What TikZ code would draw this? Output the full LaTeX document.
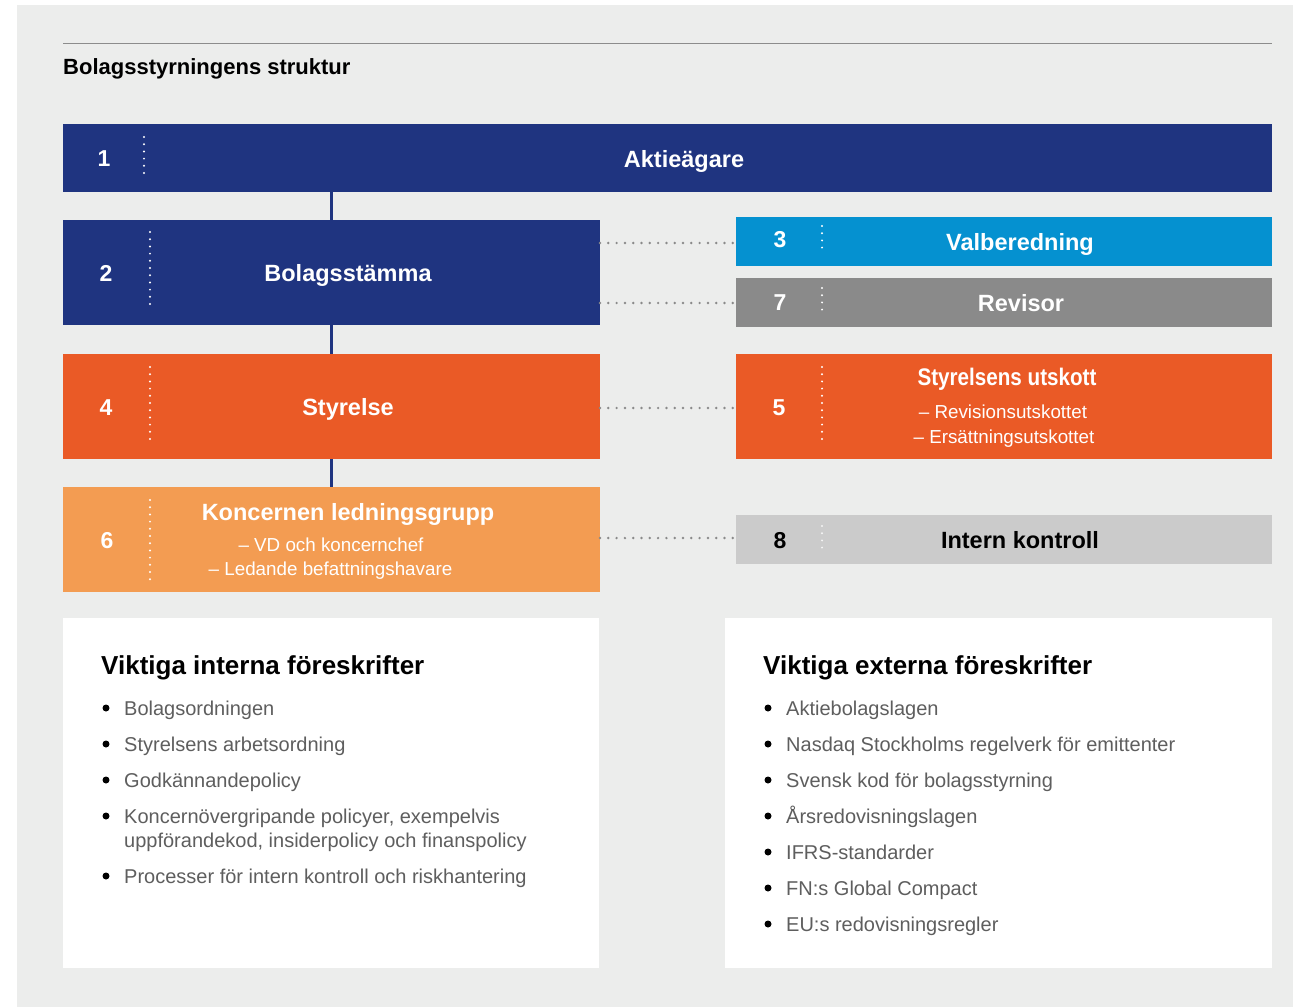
\documentclass[tikz,border=0pt]{standalone}
\usepackage{fontspec}
\setmainfont{Liberation Sans}
\newfontfamily\condfont{Liberation Sans}[FakeStretch=0.86]
\definecolor{bg}{HTML}{ECEDEC}
\definecolor{navy}{HTML}{1F3480}
\definecolor{skyblue}{HTML}{0591D0}
\definecolor{midgray}{HTML}{8A8A8A}
\definecolor{orangeA}{HTML}{EA5A26}
\definecolor{orangeB}{HTML}{F39C52}
\definecolor{lightgray}{HTML}{CBCBCB}
\definecolor{rulegray}{HTML}{8C8C8C}
\definecolor{bodygray}{HTML}{5E5E5E}
\tikzset{
  box/.style={draw=none, inner sep=0pt, outer sep=0pt, rectangle},
  numtxt/.style={anchor=base, inner sep=0pt, font=\fontsize{23}{26}\selectfont\bfseries},
  ttl/.style={anchor=base, inner sep=0pt, font=\fontsize{23.5}{28}\selectfont\bfseries},
  subtxt/.style={anchor=base, inner sep=0pt, font=\fontsize{18.8}{22}\selectfont},
  wdots/.style={draw=white, line width=2.2pt, line cap=round, dash pattern=on 0pt off 7.2pt},
  gdots/.style={draw=midgray, line width=2.7pt, line cap=round, dash pattern=on 0pt off 8.3pt},
  vline/.style={draw=navy, line width=2.2pt},
  head/.style={anchor=base west, inner sep=0pt, font=\fontsize{26}{30}\selectfont\bfseries},
  item/.style={anchor=base west, inner sep=0pt, text=bodygray, font=\fontsize{20}{24}\selectfont, align=left},
  bul/.style={circle, fill=black, inner sep=0pt, minimum size=7pt}
}
\begin{document}
\begin{tikzpicture}[x=1pt, y=-1pt]
\useasboundingbox (0,0) rectangle (1293,1007);
\fill[white] (0,0) rectangle (1293,1007);
\fill[bg] (17,5) rectangle (1293,1007);
% title rule and title
\draw[rulegray, line width=1.6pt] (63,43.5) -- (1272,43.5);
\node[anchor=base west, inner sep=0pt, font=\fontsize{22}{26}\selectfont\bfseries] (title) at (63,74) {Bolagsstyrningens struktur};

% boxes
\node[box, fill=navy, minimum width=1209pt, minimum height=68pt] (b1) at (667.5,158) {};
\node[box, fill=navy, minimum width=537pt, minimum height=105pt] (b2) at (331.5,272.5) {};
\node[box, fill=skyblue, minimum width=536pt, minimum height=49pt] (b3) at (1004,241.5) {};
\node[box, fill=midgray, minimum width=536pt, minimum height=49pt] (b7) at (1004,302.5) {};
\node[box, fill=orangeA, minimum width=537pt, minimum height=105pt] (b4) at (331.5,406.5) {};
\node[box, fill=orangeA, minimum width=536pt, minimum height=105pt] (b5) at (1004,406.5) {};
\node[box, fill=orangeB, minimum width=537pt, minimum height=105pt] (b6) at (331.5,539.5) {};
\node[box, fill=lightgray, minimum width=536pt, minimum height=49pt] (b8) at (1004,539.5) {};

% vertical navy connectors
\draw[vline] (b1.south -| b2.north) -- (b2.north);
\draw[vline] (b2.south) -- (b4.north);
\draw[vline] (b4.south) -- (b6.north);

% dotted horizontal connectors
\draw[gdots] (b2.east |- 0,243) -- (b3.west |- 0,243);
\draw[gdots] (b2.east |- 0,303) -- (b7.west |- 0,303);
\draw[gdots] (b4.east |- 0,408) -- (b5.west |- 0,408);
\draw[gdots] (b6.east |- 0,538) -- (b8.west |- 0,538);

% white dotted separators inside boxes
\draw[wdots] (144,137) -- (144,180);
\draw[wdots] (150,232) -- (150,310);
\draw[wdots] (150,367) -- (150,446);
\draw[wdots] (150,500) -- (150,583);
\draw[wdots] (822,226) -- (822,253);
\draw[wdots] (822,288) -- (822,316);
\draw[wdots] (822,367) -- (822,445);
\draw[wdots, draw=white!80!lightgray] (822,526) -- (822,553);

% numbers
\node[numtxt, text=white] (n1) at (104,166.5) {1};
\node[numtxt, text=white] (n2) at (106,281) {2};
\node[numtxt, text=white] (n3) at (780,247) {3};
\node[numtxt, text=white] (n7) at (780,310) {7};
\node[numtxt, text=white] (n4) at (106,415) {4};
\node[numtxt, text=white] (n5) at (779,415) {5};
\node[numtxt, text=white] (n6) at (107,548) {6};
\node[numtxt, text=black] (n8) at (780,548) {8};

% box titles
\node[ttl, text=white] (t1) at (684,167.5) {Aktieägare};
\node[ttl, text=white] (t2) at (348,281) {Bolagsstämma};
\node[ttl, text=white] (t3) at (1020,250) {Valberedning};
\node[ttl, text=white] (t7) at (1021,311) {Revisor};
\node[ttl, text=white] (t4) at (348,415) {Styrelse};
\node[ttl, text=white, font=\fontsize{24}{28}\selectfont\bfseries\condfont] (t5) at (1007,385) {Styrelsens utskott};
\node[subtxt, text=white] (s5a) at (1003,418.5) {– Revisionsutskottet};
\node[subtxt, text=white] (s5b) at (1004,443.5) {– Ersättningsutskottet};
\node[ttl, text=white] (t6) at (348,520.5) {Koncernen ledningsgrupp};
\node[subtxt, text=white] (s6a) at (331,551) {– VD och koncernchef};
\node[subtxt, text=white] (s6b) at (330.5,575.5) {– Ledande befattningshavare};
\node[ttl, text=black] (t8) at (1020,548) {Intern kontroll};

% lower white panels
\node[box, fill=white, minimum width=536pt, minimum height=350pt] (pl) at (331,793) {};
\node[box, fill=white, minimum width=547pt, minimum height=350pt] (pr) at (998.5,793) {};

\node[head] (hl) at (101,674) {Viktiga interna föreskrifter};
\node[head] (hr) at (763,674) {Viktiga externa föreskrifter};

% left list
\foreach \yy/\txt in {715/Bolagsordningen, 751/Styrelsens arbetsordning, 787/Godkännandepolicy, 883/Processer för intern kontroll och riskhantering}{
  \node[bul] at (106,\yy-7) {};
  \node[item] at (124,\yy) {\txt};
}
\node[bul] (bk) at (106,816) {};
\node[item] (ik) at (124,823) {Koncernövergripande policyer, exempelvis};
\node[item] (ik2) at (124,847) {uppförandekod, insiderpolicy och finanspolicy};

% right list
\foreach \yy/\txt in {715/Aktiebolagslagen, 751/Nasdaq Stockholms regelverk för emittenter, 787/Svensk kod för bolagsstyrning, 823/Årsredovisningslagen, 859/IFRS-standarder, 895/FN:s Global Compact, 931/EU:s redovisningsregler}{
  \node[bul] at (768,\yy-7) {};
  \node[item] at (786,\yy) {\txt};
}
\end{tikzpicture}
\end{document}
